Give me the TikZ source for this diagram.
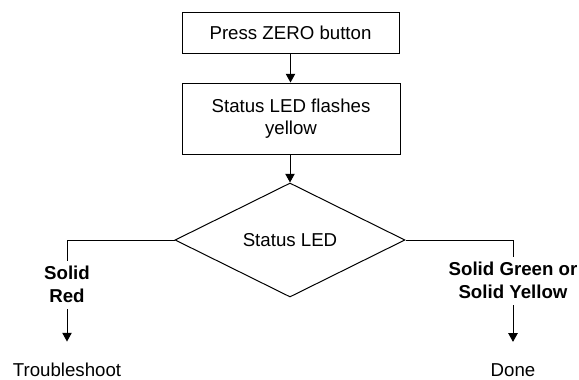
\documentclass[tikz,border=0pt]{standalone}
\usepackage{fontspec}
\setmainfont{Liberation Sans}
\usetikzlibrary{shapes.geometric,arrows.meta}
\begin{document}
\begin{tikzpicture}[x=0.75pt,y=-0.75pt,
  every node/.style={font=\fontsize{14}{16.8}\selectfont},
  procbox/.style={draw,line width=0.75pt,align=center,inner sep=0pt},
  decbox/.style={draw,diamond,line width=0.75pt,inner sep=0pt,minimum width=172.5pt,minimum height=85.5pt},
  lbl/.style={align=center,font=\fontsize{14}{16.8}\selectfont\bfseries,inner sep=0pt},
  endtxt/.style={inner sep=0pt},
  conn/.style={line width=0.75pt},
  arr/.style={conn,-{Triangle[length=6.5pt,width=7pt]}}]
\useasboundingbox (0,0) rectangle (579,379);
\node[procbox,minimum width=162.75pt,minimum height=30.75pt] (b1) at (290.5,32.5) {Press ZERO button};
\node[procbox,minimum width=163.5pt,minimum height=53.25pt] (b2) at (291,118.5) {Status LED flashes\\yellow};
\node[decbox] (d) at (290,240) {Status LED};
\node[lbl] (lr) at (67,284.5) {Solid\\Red};
\node[lbl] (lg) at (513,280.5) {Solid Green or\\Solid Yellow};
\node[endtxt] (tr) at (67,370) {Troubleshoot};
\node[endtxt] (dn) at (513,370) {Done};
\draw[arr] (b1.south) -- (b1.south |- b2.north);
\draw[arr] (b2.south -| d.north) -- (d.north);
\draw[conn] (d.west) -| ([yshift=4pt]lr.north);
\draw[conn] (d.east) -| ([yshift=4pt]lg.north);
\draw[arr,shorten >=16pt] ([yshift=-5pt]lr.south) -- (tr.north);
\draw[arr,shorten >=16pt] ([yshift=-5pt]lg.south) -- (dn.north);
\end{tikzpicture}
\end{document}
